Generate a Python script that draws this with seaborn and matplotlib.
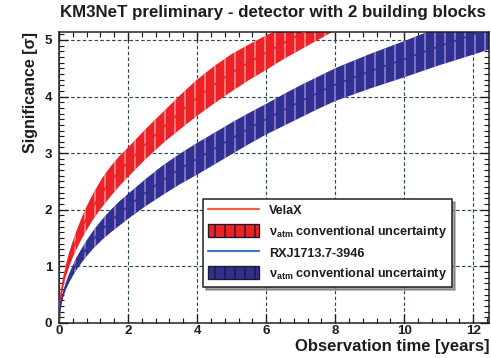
import numpy as np
import pandas as pd
import matplotlib
matplotlib.use("Agg")
import matplotlib.pyplot as plt
from matplotlib.lines import Line2D
from matplotlib.patches import Patch
from matplotlib.ticker import MultipleLocator
import seaborn as sns

# --- DATA ---
t_years = [0, 0.02, 0.05, 0.1, 0.15, 0.2, 0.3, 0.4, 0.5, 0.65, 0.8, 1, 1.25, 1.5, 1.75, 2,
           2.5, 3, 3.5, 4, 4.5, 5, 5.5, 6, 6.5, 7, 7.5, 8, 9, 10, 11, 12, 12.5]

vela_lo = [0, 0.26, 0.41, 0.58, 0.71, 0.82, 1.00, 1.16, 1.29, 1.48, 1.64, 1.84, 2.05, 2.24,
           2.42, 2.58, 2.89, 3.17, 3.42, 3.66, 3.88, 4.09, 4.29, 4.47, 4.66, 4.83, 5.00,
           5.17, 5.48, 5.78, 6.06, 6.33, 6.46]
vela_mid = [0, 0.295, 0.465, 0.655, 0.80, 0.925, 1.13, 1.305, 1.455, 1.665, 1.85, 2.07,
            2.305, 2.505, 2.685, 2.84, 3.155, 3.445, 3.72, 3.98, 4.21, 4.42, 4.605, 4.775,
            4.945, 5.105, 5.26, 5.41, 5.69, 5.955, 6.205, 6.44, 6.555]
vela_hi = [0, 0.33, 0.52, 0.73, 0.89, 1.03, 1.26, 1.45, 1.62, 1.85, 2.06, 2.30, 2.56, 2.77,
           2.95, 3.10, 3.42, 3.72, 4.02, 4.30, 4.54, 4.75, 4.92, 5.08, 5.23, 5.38, 5.52,
           5.65, 5.90, 6.13, 6.35, 6.55, 6.65]

rxj_lo = [0, 0.19, 0.30, 0.42, 0.51, 0.59, 0.72, 0.83, 0.93, 1.06, 1.18, 1.32, 1.47, 1.60,
          1.72, 1.84, 2.06, 2.26, 2.45, 2.62, 2.80, 2.98, 3.16, 3.33, 3.48, 3.63, 3.78,
          3.92, 4.14, 4.34, 4.55, 4.74, 4.84]
rxj_mid = [0, 0.21, 0.33, 0.465, 0.565, 0.655, 0.80, 0.925, 1.04, 1.185, 1.32, 1.48, 1.65,
           1.80, 1.935, 2.06, 2.30, 2.52, 2.72, 2.90, 3.08, 3.26, 3.435, 3.60, 3.76, 3.915,
           4.065, 4.21, 4.445, 4.66, 4.885, 5.095, 5.20]
rxj_hi = [0, 0.23, 0.36, 0.51, 0.62, 0.72, 0.88, 1.02, 1.15, 1.31, 1.46, 1.64, 1.83, 2.00,
          2.15, 2.28, 2.54, 2.78, 2.99, 3.18, 3.36, 3.54, 3.71, 3.87, 4.04, 4.20, 4.35,
          4.50, 4.75, 4.98, 5.22, 5.45, 5.56]

x_ticks = [0, 2, 4, 6, 8, 10, 12]
y_ticks = [0, 1, 2, 3, 4, 5]

df = pd.DataFrame({"t": t_years, "vela": vela_mid, "rxj": rxj_mid})

# --- STYLE ---
sns.set_theme(style="ticks")
plt.rcParams['font.family'] = ['Liberation Sans', 'DejaVu Sans']
plt.rcParams['font.weight'] = 'bold'
plt.rcParams['mathtext.fontset'] = 'custom'
plt.rcParams['mathtext.rm'] = 'Liberation Sans'
plt.rcParams['mathtext.bf'] = 'Liberation Sans:bold'
plt.rcParams['hatch.linewidth'] = 0.8

red = '#ec2227'
red_hatch = '#f6a3a6'
blue = '#2e3192'
blue_hatch = '#b08fd6'
txt = '#1c1c24'
grid_c = '#2d4a50'

dpi = 120
fig = plt.figure(figsize=(491 / dpi, 358 / dpi), dpi=dpi)
ax = fig.add_axes([0.1202, 0.0978, 0.876, 0.8128])
ax.set_axisbelow(True)

# bands
ax.fill_between(df['t'], vela_lo, vela_hi, facecolor=red, edgecolor=red_hatch,
                hatch='||', linewidth=0, zorder=2)
ax.fill_between(df['t'], rxj_lo, rxj_hi, facecolor=blue, edgecolor=blue_hatch,
                hatch='||', linewidth=0, zorder=2)
# central lines
sns.lineplot(data=df, x='t', y='vela', color=red, lw=1, ax=ax, zorder=3, legend=False)
sns.lineplot(data=df, x='t', y='rxj', color=blue, lw=1, ax=ax, zorder=3, legend=False)

ax.set_xlim(0, 12.46)
ax.set_ylim(0, 5.14)
ax.set_xticks(x_ticks)
ax.set_yticks(y_ticks)
ax.xaxis.set_minor_locator(MultipleLocator(0.4))
ax.yaxis.set_minor_locator(MultipleLocator(0.1))
ax.tick_params(which='both', direction='in', top=True, right=True, colors=txt,
               labelsize=8)
ax.tick_params(axis='x', pad=1.2)
ax.tick_params(axis='y', pad=4)
ax.tick_params(which='major', length=5.5, width=0.8)
ax.tick_params(which='minor', length=2.8, width=0.7)
for lab in ax.get_xticklabels() + ax.get_yticklabels():
    lab.set_fontweight('bold')

ax.grid(which='major', color=grid_c, ls=(0, (3, 2)), lw=0.7)
for sp in ax.spines.values():
    sp.set_color(txt)
    sp.set_linewidth(0.9)

ax.set_xlabel('Observation time [years]', loc='right', fontsize=10,
              fontweight='bold', color=txt, labelpad=1.5)
ax.set_ylabel('Significance [\u03c3]', loc='top', fontsize=9.6,
              fontweight='bold', color=txt, labelpad=4)

fig.text(0.556, 0.965, 'KM3NeT preliminary - detector with 2 building blocks',
         ha='center', va='center', fontsize=10.1, fontweight='bold', color=txt)

# legend
handles = [
    Line2D([], [], color='#f2604c', lw=1.3),
    Patch(facecolor=red, edgecolor=red_hatch, hatch='||', lw=0),
    Line2D([], [], color='#3d72c8', lw=1.3),
    Patch(facecolor=blue, edgecolor=blue_hatch, hatch='||', lw=0),
]
nu_label = '\u03bd$_{\\mathbf{atm}}$ conventional uncertainty'
labels = ['VelaX', nu_label, 'RXJ1713.7-3946', nu_label]
leg = ax.legend(handles, labels, loc='upper left', bbox_to_anchor=(0.335, 0.426),
                borderaxespad=0, frameon=True, fancybox=False, shadow=True,
                edgecolor=txt, framealpha=1, prop={'size': 7.6, 'weight': 'bold'},
                handlelength=4.0, handleheight=1.1, labelspacing=0.5,
                handletextpad=0.8, borderpad=0.4)
leg.get_frame().set_linewidth(0.9)
for patch in leg.get_patches():
    patch.set_edgecolor(txt)
    patch.set_linewidth(0.8)
for t in leg.get_texts():
    t.set_color(txt)

fig.savefig('out.png', dpi=dpi)
